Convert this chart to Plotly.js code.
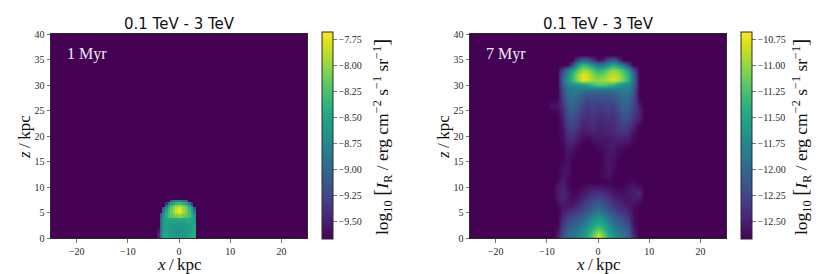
<!DOCTYPE html>
<html><head><meta charset="utf-8">
<script src="https://cdn.plot.ly/plotly-3.0.1.min.js"></script>
<style>html,body{margin:0;padding:0;background:#fff}#c{width:830px;height:274px}</style>
</head><body><div id="c"></div>
<script>
const panelTitle = "0.1 TeV - 3 TeV";
const ageLabels = ["1 Myr", "7 Myr"];
const xLabel = "<i>x</i>\u2009/\u2009kpc";
const zLabel = "<i>z</i>\u2009/\u2009kpc";
const xTicks = [-20, -10, 0, 10, 20];
const zTicks = [0, 5, 10, 15, 20, 25, 30, 35, 40];
const leftBarTicks = [-9.5, -9.25, -9, -8.75, -8.5, -8.25, -8, -7.75];
const rightBarTicks = [-12.5, -12.25, -12, -11.75, -11.5, -11.25, -11, -10.75];

const leftX = [-4,-3.5,-3,-2.5,-2,-1.5,-1,-0.5,0,0.5,1,1.5,2,2.5,3,3.5,4];
const leftZ = [0.25,0.75,1.25,1.75,2.25,2.75,3.25,3.75,4.25,4.75,5.25,5.75,6.25,6.75,7.25,7.75];
const leftI = [
[-9.45,-8.95,-8.5,-8.45,-8.5,-8.55,-8.58,-8.6,-8.6,-8.6,-8.58,-8.55,-8.5,-8.45,-8.4,-9.67,-9.67],
[-9.45,-8.95,-8.52,-8.48,-8.52,-8.58,-8.6,-8.62,-8.62,-8.62,-8.6,-8.58,-8.52,-8.48,-8.42,-9.67,-9.67],
[-9.5,-9.0,-8.55,-8.5,-8.55,-8.6,-8.62,-8.65,-8.65,-8.65,-8.62,-8.6,-8.55,-8.5,-8.45,-9.67,-9.67],
[-9.55,-9.0,-8.55,-8.52,-8.55,-8.6,-8.62,-8.65,-8.65,-8.65,-8.62,-8.6,-8.55,-8.52,-8.45,-9.67,-9.67],
[-9.67,-9.0,-8.58,-8.52,-8.55,-8.58,-8.62,-8.62,-8.62,-8.62,-8.62,-8.58,-8.55,-8.52,-8.48,-9.67,-9.67],
[-9.67,-9.0,-8.6,-8.52,-8.52,-8.55,-8.58,-8.6,-8.6,-8.6,-8.58,-8.55,-8.52,-8.52,-8.5,-9.67,-9.67],
[-9.67,-9.0,-8.6,-8.5,-8.48,-8.5,-8.5,-8.5,-8.5,-8.5,-8.5,-8.5,-8.48,-8.5,-8.55,-9.67,-9.67],
[-9.67,-9.05,-8.65,-8.5,-8.45,-8.45,-8.45,-8.45,-8.45,-8.45,-8.45,-8.45,-8.45,-8.5,-8.6,-9.67,-9.67],
[-9.67,-9.1,-8.7,-8.42,-8.25,-8.2,-8.15,-8.1,-8.05,-8.1,-8.15,-8.2,-8.25,-8.4,-8.6,-9.67,-9.67],
[-9.67,-9.2,-8.75,-8.45,-8.25,-8.15,-8.05,-7.95,-7.88,-7.95,-8.05,-8.15,-8.25,-8.45,-8.65,-9.67,-9.67],
[-9.67,-9.67,-8.85,-8.5,-8.28,-8.12,-7.98,-7.82,-7.72,-7.82,-7.98,-8.12,-8.28,-8.5,-8.8,-9.67,-9.67],
[-9.67,-9.67,-9.1,-8.6,-8.32,-8.15,-8.0,-7.85,-7.75,-7.85,-8.0,-8.15,-8.32,-8.6,-9.1,-9.67,-9.67],
[-9.67,-9.67,-9.67,-8.9,-8.5,-8.3,-8.15,-8.05,-8.0,-8.05,-8.15,-8.3,-8.5,-8.9,-9.67,-9.67,-9.67],
[-9.67,-9.67,-9.67,-9.4,-8.85,-8.55,-8.45,-8.35,-8.3,-8.35,-8.45,-8.55,-8.85,-9.4,-9.67,-9.67,-9.67],
[-9.67,-9.67,-9.67,-9.67,-9.67,-9.1,-8.9,-8.8,-8.75,-8.8,-8.9,-9.1,-9.67,-9.67,-9.67,-9.67,-9.67],
[-9.67,-9.67,-9.67,-9.67,-9.67,-9.67,-9.67,-9.67,-9.67,-9.67,-9.67,-9.67,-9.67,-9.67,-9.67,-9.67,-9.67]
];

const rightX = [-9,-8,-7,-6,-5,-4,-3,-2,-1,0,1,2,3,4,5,6,7,8,9];
const rightZ = [0,1,2,3,4,5,6,7,8,9,10,11,12,13,14,15,16,17,18,19,20,21,22,23,24,25,26,27,28,29,30,31,32,33,34,35,36];
const rightI = [
[-12.67,-12.5,-12.2,-11.95,-11.85,-11.75,-11.6,-11.4,-11.1,-10.72,-11.05,-11.35,-11.6,-11.75,-11.85,-12.0,-12.45,-12.67,-12.67],
[-12.67,-12.55,-12.25,-12.0,-11.9,-11.85,-11.7,-11.5,-11.2,-10.95,-11.2,-11.5,-11.7,-11.85,-11.95,-12.1,-12.5,-12.67,-12.67],
[-12.67,-12.6,-12.3,-12.1,-12.0,-11.95,-11.8,-11.6,-11.4,-11.25,-11.4,-11.6,-11.8,-11.95,-12.05,-12.15,-12.55,-12.67,-12.67],
[-12.67,-12.65,-12.4,-12.2,-12.1,-12.05,-11.95,-11.75,-11.55,-11.45,-11.55,-11.75,-11.95,-12.05,-12.15,-12.25,-12.6,-12.67,-12.67],
[-12.67,-12.67,-12.45,-12.3,-12.2,-12.15,-12.05,-11.9,-11.7,-11.6,-11.7,-11.9,-12.05,-12.15,-12.25,-12.35,-12.6,-12.67,-12.67],
[-12.67,-12.67,-12.5,-12.42,-12.34,-12.28,-12.18,-12.08,-11.92,-11.82,-11.92,-12.08,-12.18,-12.28,-12.36,-12.46,-12.6,-12.67,-12.67],
[-12.67,-12.67,-12.55,-12.52,-12.46,-12.4,-12.3,-12.2,-12.08,-12.02,-12.08,-12.2,-12.3,-12.4,-12.46,-12.52,-12.6,-12.67,-12.67],
[-12.67,-12.6,-12.5,-12.56,-12.57,-12.5,-12.4,-12.3,-12.2,-12.14,-12.2,-12.3,-12.4,-12.48,-12.52,-12.56,-12.55,-12.62,-12.67],
[-12.67,-12.55,-12.45,-12.55,-12.62,-12.58,-12.5,-12.4,-12.33,-12.28,-12.33,-12.4,-12.5,-12.54,-12.57,-12.55,-12.5,-12.5,-12.67],
[-12.67,-12.55,-12.45,-12.55,-12.63,-12.63,-12.57,-12.5,-12.44,-12.42,-12.44,-12.5,-12.57,-12.6,-12.6,-12.55,-12.5,-12.45,-12.67],
[-12.67,-12.55,-12.5,-12.6,-12.67,-12.67,-12.62,-12.58,-12.55,-12.55,-12.55,-12.58,-12.62,-12.65,-12.62,-12.58,-12.55,-12.6,-12.67],
[-12.67,-12.62,-12.52,-12.6,-12.67,-12.67,-12.67,-12.67,-12.67,-12.67,-12.67,-12.65,-12.67,-12.67,-12.67,-12.62,-12.6,-12.67,-12.67],
[-12.67,-12.67,-12.55,-12.6,-12.67,-12.67,-12.67,-12.67,-12.67,-12.67,-12.62,-12.58,-12.65,-12.67,-12.67,-12.65,-12.67,-12.67,-12.67],
[-12.67,-12.67,-12.55,-12.58,-12.67,-12.67,-12.67,-12.67,-12.67,-12.67,-12.62,-12.55,-12.62,-12.67,-12.67,-12.67,-12.67,-12.67,-12.67],
[-12.67,-12.67,-12.58,-12.58,-12.67,-12.67,-12.67,-12.67,-12.67,-12.67,-12.62,-12.55,-12.6,-12.67,-12.67,-12.67,-12.67,-12.67,-12.67],
[-12.67,-12.67,-12.62,-12.58,-12.65,-12.67,-12.67,-12.67,-12.67,-12.67,-12.62,-12.55,-12.6,-12.67,-12.67,-12.67,-12.67,-12.67,-12.67],
[-12.67,-12.67,-12.65,-12.58,-12.62,-12.67,-12.67,-12.67,-12.67,-12.67,-12.62,-12.55,-12.58,-12.65,-12.67,-12.67,-12.67,-12.67,-12.67],
[-12.67,-12.67,-12.67,-12.55,-12.58,-12.65,-12.67,-12.67,-12.67,-12.65,-12.6,-12.55,-12.55,-12.62,-12.65,-12.67,-12.67,-12.67,-12.67],
[-12.67,-12.67,-12.65,-12.52,-12.52,-12.62,-12.67,-12.67,-12.65,-12.6,-12.58,-12.55,-12.52,-12.58,-12.6,-12.62,-12.67,-12.67,-12.67],
[-12.67,-12.67,-12.62,-12.48,-12.45,-12.55,-12.62,-12.65,-12.6,-12.57,-12.57,-12.55,-12.52,-12.52,-12.52,-12.55,-12.62,-12.67,-12.67],
[-12.67,-12.67,-12.6,-12.43,-12.4,-12.5,-12.58,-12.58,-12.55,-12.53,-12.53,-12.52,-12.48,-12.44,-12.44,-12.48,-12.6,-12.67,-12.67],
[-12.67,-12.67,-12.58,-12.38,-12.32,-12.42,-12.52,-12.5,-12.47,-12.5,-12.5,-12.47,-12.45,-12.38,-12.35,-12.42,-12.56,-12.67,-12.67],
[-12.67,-12.67,-12.55,-12.32,-12.25,-12.36,-12.48,-12.46,-12.42,-12.48,-12.46,-12.44,-12.44,-12.35,-12.28,-12.35,-12.48,-12.65,-12.67],
[-12.67,-12.67,-12.52,-12.26,-12.2,-12.3,-12.44,-12.44,-12.4,-12.46,-12.44,-12.42,-12.42,-12.3,-12.22,-12.27,-12.4,-12.55,-12.67],
[-12.67,-12.67,-12.5,-12.2,-12.13,-12.25,-12.38,-12.42,-12.36,-12.42,-12.4,-12.38,-12.38,-12.26,-12.15,-12.2,-12.34,-12.5,-12.67],
[-12.67,-12.62,-12.46,-12.15,-12.08,-12.18,-12.32,-12.37,-12.32,-12.37,-12.35,-12.32,-12.35,-12.2,-12.08,-12.14,-12.28,-12.48,-12.67],
[-12.55,-12.55,-12.38,-12.08,-12.02,-12.12,-12.26,-12.32,-12.27,-12.32,-12.3,-12.27,-12.28,-12.14,-12.03,-12.06,-12.26,-12.55,-12.67],
[-12.67,-12.62,-12.32,-12.02,-11.97,-12.04,-12.17,-12.25,-12.2,-12.24,-12.2,-12.2,-12.2,-12.06,-11.97,-12.0,-12.24,-12.62,-12.67],
[-12.67,-12.67,-12.25,-11.96,-11.9,-11.96,-12.07,-12.14,-12.13,-12.13,-12.13,-12.12,-12.07,-11.96,-11.9,-11.92,-12.18,-12.67,-12.67],
[-12.67,-12.67,-12.2,-11.9,-11.85,-11.85,-11.9,-11.95,-11.95,-11.95,-11.95,-11.95,-11.9,-11.85,-11.85,-11.8,-12.1,-12.67,-12.67],
[-12.67,-12.67,-12.1,-11.8,-11.7,-11.65,-11.6,-11.5,-11.3,-11.2,-11.2,-11.3,-11.4,-11.6,-11.7,-11.7,-12.0,-12.67,-12.67],
[-12.67,-12.67,-12.0,-11.6,-11.3,-11.0,-10.72,-10.8,-10.98,-11.0,-10.95,-10.85,-10.75,-10.9,-11.1,-11.4,-11.95,-12.67,-12.67],
[-12.67,-12.67,-12.1,-11.7,-11.3,-11.0,-10.75,-10.8,-11.05,-11.15,-11.1,-10.95,-10.85,-10.95,-11.15,-11.4,-12.0,-12.67,-12.67],
[-12.67,-12.67,-12.3,-11.9,-11.5,-11.2,-11.0,-11.0,-11.2,-11.4,-11.3,-11.1,-11.0,-11.1,-11.3,-11.6,-12.2,-12.67,-12.67],
[-12.67,-12.67,-12.67,-12.67,-12.2,-11.6,-11.3,-11.4,-11.7,-11.9,-11.8,-11.6,-11.4,-11.6,-11.9,-12.3,-12.67,-12.67,-12.67],
[-12.67,-12.67,-12.67,-12.67,-12.67,-12.3,-12.0,-12.1,-12.4,-12.6,-12.5,-12.2,-12.1,-12.4,-12.67,-12.67,-12.67,-12.67,-12.67],
[-12.67,-12.67,-12.67,-12.67,-12.67,-12.67,-12.67,-12.67,-12.67,-12.67,-12.67,-12.67,-12.67,-12.67,-12.67,-12.67,-12.67,-12.67,-12.67]
];

const W = 830, H = 274;
const ink = "#2a2a2a";
const serif = "'Liberation Serif','DejaVu Serif',serif";
const fx = p => p / W, fy = p => 1 - p / H;
const barLabel = "log<sub>10</sub> <span style=\"font-size:22px\">[</span><i>I</i><sub>R</sub> / erg cm<sup>−2</sup> s<sup>−1</sup> sr<sup>−1</sup><span style=\"font-size:22px\">]</span>";
const axisFont = {family: serif, size: 17, color: "#111"};
const tickFont = {family: serif, size: 10, color: ink};

function bar(x, ticks) {
  return {x: fx(x), xanchor: "left", xpad: 0, y: fy(239), yanchor: "bottom", ypad: 0,
    len: 207, lenmode: "pixels", thickness: 10.5, thicknessmode: "pixels",
    outlinecolor: ink, outlinewidth: 1, tickvals: ticks, tickformat: ".2f",
    ticks: "outside", ticklen: 3.5, tickwidth: 0.8, tickcolor: "#555",
    tickfont: tickFont};
}
const traces = [
  {type: "heatmap", x: leftX, y: leftZ, z: leftI, colorscale: "Viridis", zmin: -9.667, zmax: -7.673,
   xaxis: "x", yaxis: "y", hoverinfo: "skip", colorbar: bar(322, leftBarTicks)},
  {type: "heatmap", x: rightX, y: rightZ, z: rightI, colorscale: "Viridis", zmin: -12.667, zmax: -10.673,
   zsmooth: "best", xaxis: "x2", yaxis: "y2", hoverinfo: "skip", colorbar: bar(741, rightBarTicks)}
];
function xa(d0, d1, anchor) {
  return {domain: [fx(d0), fx(d1)], range: [-25, 25], anchor, tickvals: xTicks, showgrid: false, zeroline: false,
    ticks: "outside", ticklen: 3.5, tickwidth: 0.8, tickcolor: "#555", showline: true, mirror: true, linecolor: ink, linewidth: 1,
    tickfont: tickFont};
}
function ya(anchor) {
  return {domain: [fy(238), fy(34)], range: [0, 40], anchor, tickvals: zTicks, showgrid: false, zeroline: false,
    ticks: "outside", ticklen: 3.5, tickwidth: 0.8, tickcolor: "#555", showline: true, mirror: true, linecolor: ink, linewidth: 1,
    tickfont: tickFont};
}
function note(x, y, text, font, angle) {
  return {xref: "paper", yref: "paper", x: fx(x), y: fy(y), text, font, showarrow: false,
    xanchor: "center", yanchor: "middle", textangle: angle || 0, borderpad: 0};
}
const titleFont = {family: "'DejaVu Sans',sans-serif", size: 15, color: "#111"};
const ageFont = {family: serif, size: 16, color: "#f0edf2"};
const barFont = {family: serif, size: 17.5, color: "#111"};
const layout = {
  width: W, height: H, margin: {l: 0, r: 0, t: 0, b: 0}, showlegend: false,
  paper_bgcolor: "#fff", plot_bgcolor: "#440154",
  xaxis: xa(51, 307, "y"), yaxis: ya("x"),
  xaxis2: xa(470, 726, "y2"), yaxis2: ya("x2"),
  annotations: [
    note(179, 23.5, panelTitle, titleFont),
    note(598, 23.5, panelTitle, titleFont),
    note(87, 54.5, ageLabels[0], ageFont),
    note(505.5, 54.5, ageLabels[1], ageFont),
    note(381, 137, barLabel, barFont, -90),
    note(800, 137, barLabel, barFont, -90),
    note(179, 264.5, xLabel, axisFont),
    note(598, 264.5, xLabel, axisFont),
    note(24, 137, zLabel, axisFont, -90),
    note(443, 137, zLabel, axisFont, -90)
  ]
};
Plotly.newPlot("c", traces, layout, {staticPlot: true, displayModeBar: false});
</script></body></html>
